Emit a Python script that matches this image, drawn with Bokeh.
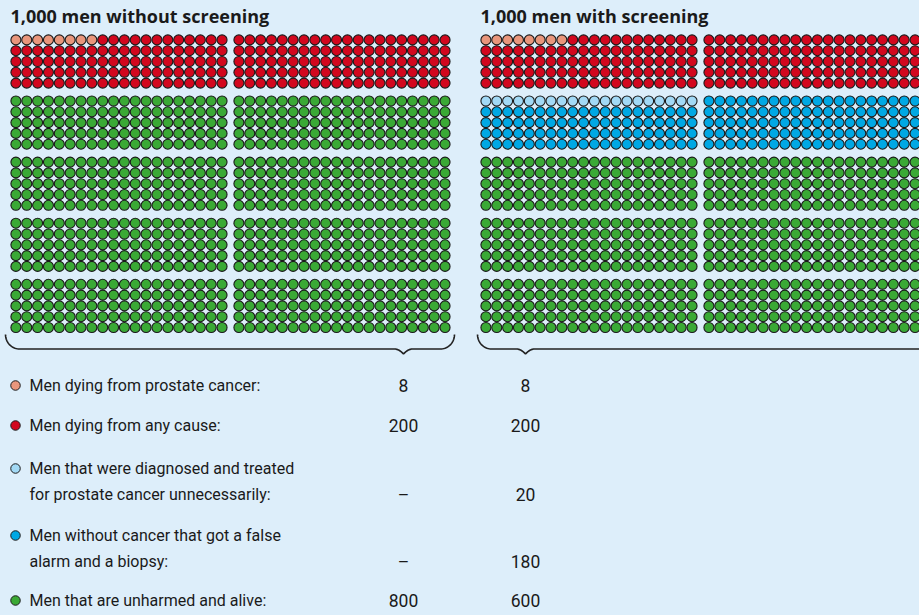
import numpy as np
from bokeh.plotting import figure
from bokeh.models import ColumnDataSource, Range1d
from bokeh.core.properties import value
from bokeh.embed import file_html
from bokeh.resources import INLINE

# ---------------- data ----------------
panel_titles = ["1,000 men without screening", "1,000 men with screening"]
category_lines = [
    ["Men dying from prostate cancer:"],
    ["Men dying from any cause:"],
    ["Men that were diagnosed and treated", "for prostate cancer unnecessarily:"],
    ["Men without cancer that got a false", "alarm and a biopsy:"],
    ["Men that are unharmed and alive:"],
]
counts_without = [8, 200, None, None, 800]
counts_with = [8, 200, 20, 180, 600]
# dots per category (the 200 "any cause" include the 8 prostate cancer deaths)
dots_without = [8, 192, 0, 0, 800]
dots_with = [8, 192, 20, 180, 600]
colors = ["#e9967c", "#d2071e", "#a2d9f5", "#00a8e4", "#3aa935"]

BG = "#ddeefa"
FONT = "Roboto"
TITLE_FONT = "Open Sans"
W, H = 919, 615

p = figure(width=W, height=H, output_backend="svg", toolbar_location=None,
           x_range=Range1d(0, W), y_range=Range1d(H, 0),
           x_axis_location=None, y_axis_location=None, min_border=0,
           background_fill_color=BG, border_fill_color=BG, outline_line_color=None)
p.grid.visible = False

# ---------------- dot grids ----------------
PITCH_X, PITCH_Y = 10.85, 10.8
BLOCK_DX, ROWBLOCK_DY = 223, 61.1
panel_x0 = [10, 480]
grid_y0 = 34
xs, ys, cs = [], [], []
for pi, dots in enumerate([dots_without, dots_with]):
    seq = np.repeat(np.arange(len(dots)), dots)
    for i, c in enumerate(seq):
        rb, within = divmod(i, 200)
        blk, k = divmod(within, 100)
        row, col = divmod(k, 20)
        xs.append(panel_x0[pi] + blk * BLOCK_DX + col * PITCH_X + 5.4)
        ys.append(grid_y0 + rb * ROWBLOCK_DY + row * PITCH_Y + 5.4)
        cs.append(colors[c])
p.scatter(x="x", y="y", source=ColumnDataSource(dict(x=xs, y=ys, c=cs)),
          size=10, fill_color="c", line_color="#1a1a1a", line_width=1.1)

# ---------------- titles ----------------
p.text(x=panel_x0, y=[15, 15], text=panel_titles,
       text_font=value(TITLE_FONT), text_font_style="bold", text_font_size="18px",
       text_color="#1a1a1a", text_baseline="middle", text_align="left")

# ---------------- braces ----------------
num_x = [403, 525]
brace_top, brace_line, brace_tip = 334, 348.5, 353.5
brace_ends = [(5, 454), (477, 950)]

def brace(x0, x1, xt):
    t = np.linspace(0, np.pi / 2, 20)
    r = 14
    left = (x0 + r - r * np.cos(t), brace_top + (brace_line - brace_top) * np.sin(t))
    right = (x1 - r + r * np.cos(t[::-1]), brace_top + (brace_line - brace_top) * np.sin(t[::-1]))
    u = np.linspace(0, 1, 12)
    tipl = (xt - 9 + 9 * u, brace_line + (brace_tip - brace_line) * u ** 2)
    tipr = (xt + 9 * u, brace_tip - (brace_tip - brace_line) * (1 - (1 - u) ** 2))
    bx = np.concatenate([left[0], tipl[0], tipr[0], right[0]])
    by = np.concatenate([left[1], tipl[1], tipr[1], right[1]])
    return bx, by

for (x0, x1), xt in zip(brace_ends, num_x):
    bx, by = brace(x0, x1, xt)
    p.line(bx, by, line_color="#222222", line_width=1.6)

# ---------------- legend table ----------------
row_y = [385, 425, 468, 535, 600]
line_gap = 26
mx, my, mc, tx, ty, tt = [], [], [], [], [], []
n1y, n1t, n2t = [], [], []
for i, lines in enumerate(category_lines):
    y0 = row_y[i]
    mx.append(15); my.append(y0); mc.append(colors[i])
    for j, ln in enumerate(lines):
        tx.append(29); ty.append(y0 + j * line_gap); tt.append(ln)
    ylast = y0 + (len(lines) - 1) * line_gap
    n1y.append(ylast)
    n1t.append("–" if counts_without[i] is None else f"{counts_without[i]}")
    n2t.append("–" if counts_with[i] is None else f"{counts_with[i]}")

p.scatter(x=mx, y=my, size=9.5, fill_color=mc, line_color="#1a1a1a", line_width=1)
p.text(x=tx, y=ty, text=tt, text_font=value(FONT), text_font_size="16px",
       text_color="#1a1a1a", text_baseline="middle", text_align="left")
p.text(x=[num_x[0]] * len(n1y), y=n1y, text=n1t, text_font=value(FONT),
       text_font_size="17.5px", text_color="#1a1a1a", text_baseline="middle", text_align="center")
p.text(x=[num_x[1]] * len(n1y), y=n1y, text=n2t, text_font=value(FONT),
       text_font_size="17.5px", text_color="#1a1a1a", text_baseline="middle", text_align="center")

html = file_html(p, INLINE)
html = html.replace("</head>", "<style>html,body{background:%s;}</style></head>" % BG, 1)
open("out.html", "w").write(html)
